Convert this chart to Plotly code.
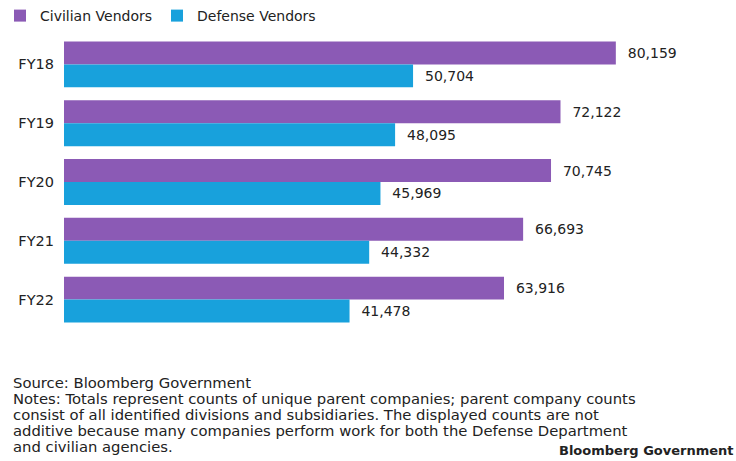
import plotly.graph_objects as go

years = ["FY18", "FY19", "FY20", "FY21", "FY22"]
civilian = [80159, 72122, 70745, 66693, 63916]
defense = [50704, 48095, 45969, 44332, 41478]

note_lines = [
    "Source: Bloomberg Government",
    "Notes: Totals represent counts of unique parent companies; parent company counts",
    "consist of all identified divisions and subsidiaries. The displayed counts are not",
    "additive because many companies perform work for both the Defense Department",
    "and civilian agencies.",
]

purple = "#8b5ab5"
blue = "#18a1dc"
font = "DejaVu Sans, Liberation Sans, Arial, sans-serif"

fig = go.Figure()
fig.add_trace(go.Bar(
    y=years, x=civilian, orientation="h", name="Civilian Vendors",
    marker=dict(color=purple, line=dict(width=0)),
    text=[f"{v:,}" for v in civilian], textposition="outside",
    texttemplate="  %{text}", cliponaxis=False,
    textfont=dict(size=14, color="#222", family=font),
))
fig.add_trace(go.Bar(
    y=years, x=defense, orientation="h", name="Defense Vendors",
    marker=dict(color=blue, line=dict(width=0)),
    text=[f"{v:,}" for v in defense], textposition="outside",
    texttemplate="  %{text}", cliponaxis=False,
    textfont=dict(size=14, color="#222", family=font),
))

T, B = 34.5, 131.5
PH = 461 - T - B
fig.update_layout(
    width=736, height=461,
    margin=dict(l=64, r=18, t=T, b=B, autoexpand=False),
    barmode="group", bargap=0.22, bargroupgap=0,
    plot_bgcolor="white", paper_bgcolor="white",
    font=dict(family=font, size=14, color="#222"),
    showlegend=True,
    legend=dict(orientation="h", x=-0.004, y=1.0, xref="container", yref="container",
                xanchor="left", yanchor="top", font=dict(size=14, color="#222"),
                itemwidth=30, traceorder="normal", tracegroupgap=0),
    xaxis=dict(range=[0, 95000], visible=False, showgrid=False, zeroline=False),
    yaxis=dict(autorange="reversed", showgrid=False, zeroline=False, showline=False,
               ticks="", ticklabelstandoff=9, tickfont=dict(size=14.5, color="#222")),
)

PW = 736 - 64 - 18
for i, line in enumerate(note_lines):
    ypix = 383 + i * 16  # vertical centre of the line in page pixels
    fig.add_annotation(text=line, xref="paper", yref="paper",
                       x=(11 - 64) / PW, y=(461 - B - ypix) / PH,
                       xanchor="left", yanchor="middle", showarrow=False, align="left",
                       font=dict(size=14.8, color="#222", family=font))
fig.add_annotation(text="<b>Bloomberg Government</b>", xref="paper", yref="paper",
                   x=(736 - 64) / PW, y=(461 - B - 451) / PH, xanchor="right", yanchor="middle",
                   showarrow=False, font=dict(size=13, color="#222", family=font))

fig.write_html("out.html")
